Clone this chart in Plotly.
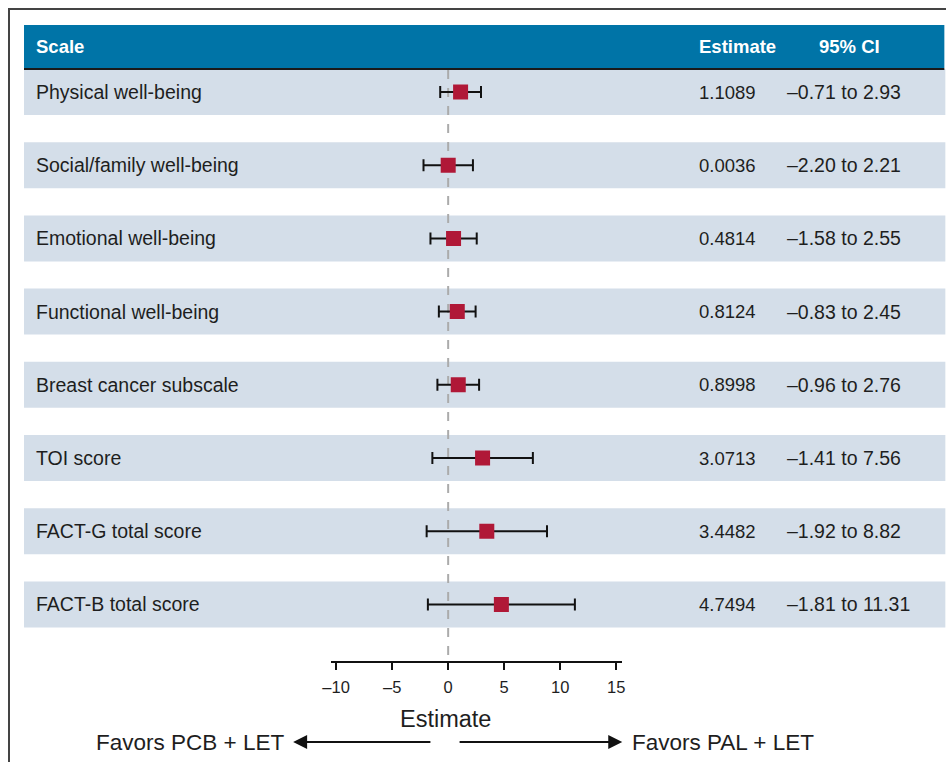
import plotly.graph_objects as go

# Forest plot of FACT-B subscale differences (PAL + LET vs PCB + LET)
scales = [
    "Physical well-being",
    "Social/family well-being",
    "Emotional well-being",
    "Functional well-being",
    "Breast cancer subscale",
    "TOI score",
    "FACT-G total score",
    "FACT-B total score",
]
estimates = [1.1089, 0.0036, 0.4814, 0.8124, 0.8998, 3.0713, 3.4482, 4.7494]
ci_low = [-0.71, -2.20, -1.58, -0.83, -0.96, -1.41, -1.92, -1.81]
ci_high = [2.93, 2.21, 2.55, 2.45, 2.76, 7.56, 8.82, 11.31]
tick_vals = [-10, -5, 0, 5, 10, 15]
tick_text = ["–10", "–5", "0", "5", "10", "15"]

W, H = 950, 762
BLUE = "#0074a7"
ROW_BG = "#d4dee9"
RED = "#b01837"
INK = "#1e1e1e"
BODY = "Liberation Sans, Arial, Helvetica, sans-serif"

ROW0, ROW_STEP, ROW_HALF = 92.0, 73.2, 23.0

# horizontal page offset / scale correction for the embedding page
X_SCALE, X_OFF = 0.987, 8.0


def px(x):
    return ((x - X_OFF) / X_SCALE) / W


def py(y):
    return 1 - y / H


rows = list(range(len(scales)))
y_top = -ROW0 / ROW_STEP
y_bot = (H - ROW0) / ROW_STEP
half = ROW_HALF / ROW_STEP

fig = go.Figure()

fig.add_trace(go.Scatter(
    x=estimates,
    y=rows,
    mode="markers",
    marker=dict(symbol="square", size=15, color=RED, line=dict(width=0)),
    error_x=dict(
        type="data",
        symmetric=False,
        array=[h - e for h, e in zip(ci_high, estimates)],
        arrayminus=[e - l for e, l in zip(estimates, ci_low)],
        color="#111111",
        thickness=2,
        width=6,
    ),
    showlegend=False,
    hoverinfo="skip",
))

shapes = []
# outer frame (left and top edges fall inside the page)
shapes.append(dict(type="line", xref="paper", yref="paper",
                   x0=px(9), x1=px(9), y0=0, y1=py(8),
                   line=dict(color="#444444", width=2)))
shapes.append(dict(type="line", xref="paper", yref="paper",
                   x0=px(8), x1=1, y0=py(9), y1=py(9),
                   line=dict(color="#444444", width=2)))
# header band
shapes.append(dict(type="rect", xref="paper", yref="paper",
                   x0=px(24), x1=px(944), y0=py(68), y1=py(25),
                   line=dict(width=0), fillcolor=BLUE, layer="below"))
# shaded rows
for i in rows:
    shapes.append(dict(type="rect", xref="paper", yref="y",
                       x0=px(24), x1=px(945), y0=i - half, y1=i + half,
                       line=dict(width=0), fillcolor=ROW_BG, layer="below"))
# header rule
shapes.append(dict(type="line", xref="paper", yref="paper",
                   x0=px(24), x1=px(944), y0=py(69), y1=py(69),
                   line=dict(color="#1a1a1a", width=2)))
# null-effect reference line
shapes.append(dict(type="line", xref="x", yref="paper",
                   x0=0, x1=0, y0=py(70), y1=py(661),
                   line=dict(color="#ababab", width=2, dash="dash"),
                   layer="below"))

annotations = []
# header labels
for text, x in [("Scale", 34), ("Estimate", 697), ("95% CI", 817)]:
    annotations.append(dict(text=f"<b>{text}</b>", xref="paper", yref="paper",
                            x=px(x), y=py(46), xanchor="left", yanchor="middle",
                            showarrow=False,
                            font=dict(family=BODY, size=18.5, color="white")))
# row labels and values
for i, (name, est, lo, hi) in enumerate(zip(scales, estimates, ci_low, ci_high)):
    ci_txt = f"{lo:.2f} to {hi:.2f}".replace("-", "–")
    for text, x, size in [(name, 34, 19.5), (f"{est:.4f}", 697, 18.5),
                          (ci_txt, 785, 19.5)]:
        annotations.append(dict(text=text, xref="paper", yref="y",
                                x=px(x), y=i, xanchor="left", yanchor="middle",
                                showarrow=False,
                                font=dict(family=BODY, size=size, color=INK)))
# axis title
annotations.append(dict(text="Estimate", xref="paper", yref="paper",
                        x=px(445), y=py(719), xanchor="center", yanchor="middle",
                        showarrow=False,
                        font=dict(family=BODY, size=23.5, color=INK)))
# direction arrows
annotations.append(dict(text="", xref="paper", yref="paper",
                        x=px(293), y=py(742), ax=(430 - 293) / X_SCALE, ay=0,
                        showarrow=True, arrowhead=2, arrowsize=1.4,
                        arrowwidth=2, arrowcolor="#111111"))
annotations.append(dict(text="", xref="paper", yref="paper",
                        x=px(622), y=py(742), ax=(460 - 622) / X_SCALE, ay=0,
                        showarrow=True, arrowhead=2, arrowsize=1.4,
                        arrowwidth=2, arrowcolor="#111111"))
annotations.append(dict(text="Favors PCB + LET", xref="paper", yref="paper",
                        x=px(286), y=py(742), xanchor="right", yanchor="middle",
                        showarrow=False,
                        font=dict(family=BODY, size=22.5, color=INK)))
annotations.append(dict(text="Favors PAL + LET", xref="paper", yref="paper",
                        x=px(630), y=py(742), xanchor="left", yanchor="middle",
                        showarrow=False,
                        font=dict(family=BODY, size=22.5, color=INK)))

fig.update_layout(
    width=W,
    height=H,
    autosize=False,
    margin=dict(l=0, r=0, t=0, b=0, pad=0),
    paper_bgcolor="white",
    plot_bgcolor="rgba(0,0,0,0)",
    shapes=shapes,
    annotations=annotations,
    xaxis=dict(
        domain=[px(330.4), px(621.6)],
        range=[-10.5, 15.5],
        anchor="free",
        position=py(662),
        showline=True,
        linecolor="#111111",
        linewidth=2,
        ticks="outside",
        ticklen=7,
        tickwidth=1.5,
        tickcolor="#111111",
        tickvals=tick_vals,
        ticktext=tick_text,
        tickfont=dict(family=BODY, size=16.5, color=INK),
        ticklabelstandoff=3,
        showgrid=False,
        zeroline=False,
        fixedrange=True,
    ),
    yaxis=dict(
        domain=[0, 1],
        range=[y_bot, y_top],
        visible=False,
        showgrid=False,
        zeroline=False,
        fixedrange=True,
    ),
)

fig.write_html("out.html")
